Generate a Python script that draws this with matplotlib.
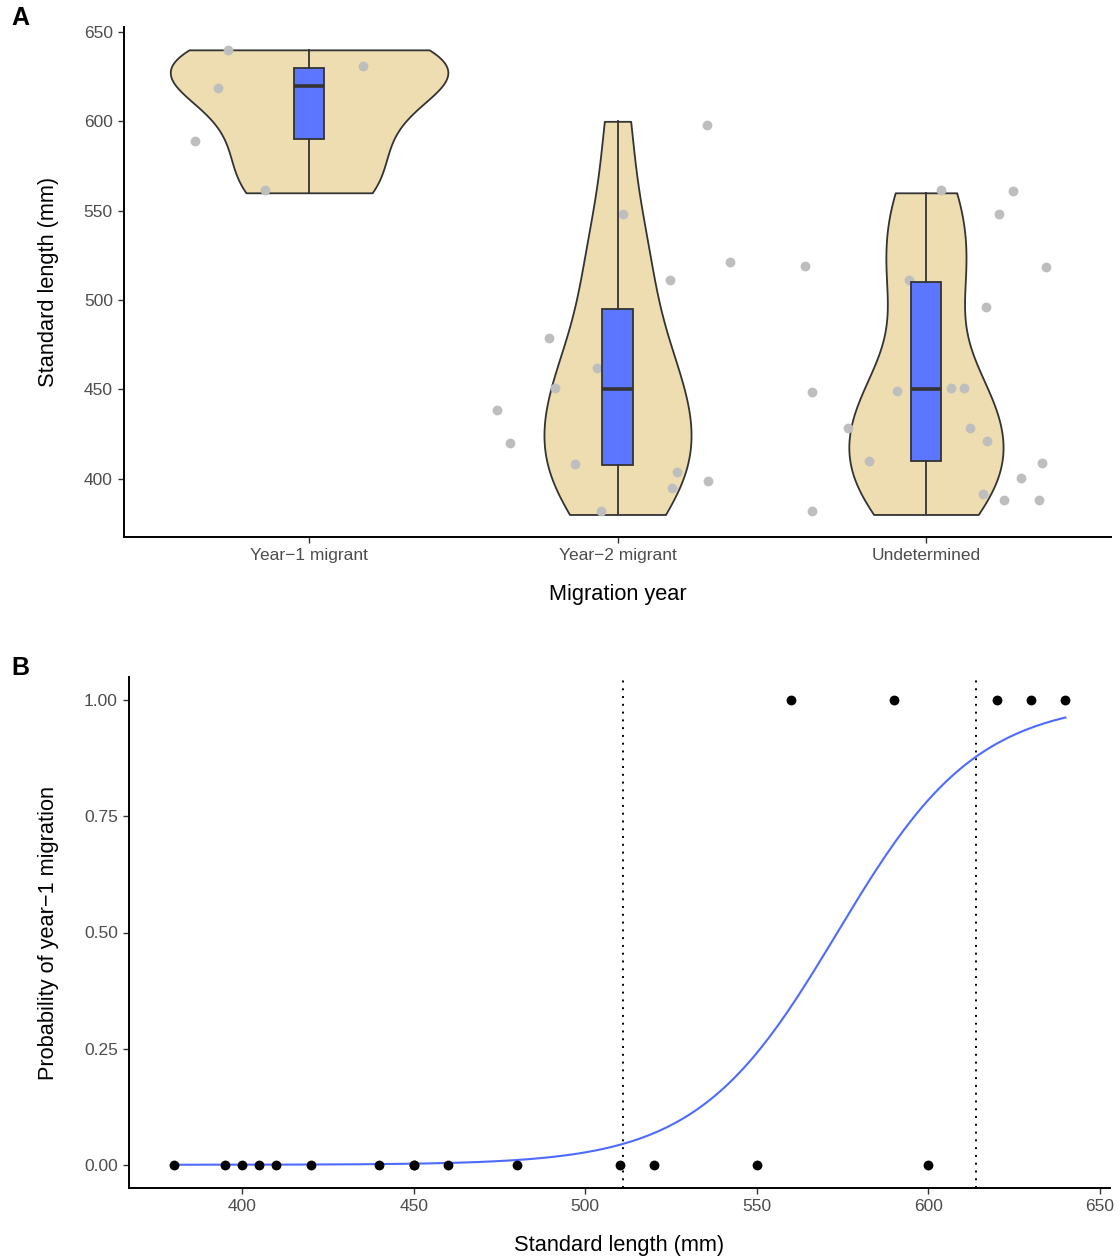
import numpy as np
import matplotlib
matplotlib.use('Agg')
import matplotlib.pyplot as plt

plt.rcParams['font.family'] = ['Liberation Sans', 'DejaVu Sans']

# Standard lengths (mm) by migration year
groups = ['Year\u22121 migrant', 'Year\u22122 migrant', 'Undetermined']
year1_len = np.array([560, 590, 620, 630, 640])
year2_len = np.array([380, 395, 400, 405, 410, 420, 440, 450, 450, 460, 480, 510, 520, 550, 600])
undet_len = np.array([380, 390, 390, 390, 400, 410, 410, 420, 430, 430, 450, 450, 450, 450,
                      495, 510, 520, 520, 550, 560, 560])

# jittered points as plotted (value, horizontal offset)
year1_jit_y = [588.9, 618.8, 639.9, 631.0, 561.6]
year1_jit_dx = [-0.371, -0.294, -0.262, 0.174, -0.142]
year2_jit_y = [598, 548, 521, 511, 479, 461.7, 450.7, 438.4, 419.8, 408, 403.5, 398.9, 395, 381.7, 449]
year2_jit_dx = [0.290, 0.017, 0.364, 0.170, -0.221, -0.066, -0.202, -0.392, -0.349, -0.138,
                0.192, 0.293, 0.178, -0.053, 0.02]
undet_jit_y = [561.6, 561, 548, 519, 518.6, 511, 496, 448.7, 449, 451, 451, 428.5, 428.5, 421,
               410, 409, 400.6, 391.6, 388, 388, 382]
undet_jit_dx = [0.049, 0.282, 0.237, -0.392, 0.389, -0.055, 0.194, -0.370, -0.094, 0.081, 0.123,
                -0.253, 0.143, 0.198, -0.185, 0.376, 0.308, 0.185, 0.253, 0.366, -0.370]

# cut-off lengths marked in panel B
cutoffs = [511, 614]

lengths = [year1_len, year2_len, undet_len]
jit_y = [year1_jit_y, year2_jit_y, undet_jit_y]
jit_dx = [year1_jit_dx, year2_jit_dx, undet_jit_dx]

W, H = 1120, 1259
fig = plt.figure(figsize=(W / 100, H / 100), dpi=100)

tick_col = '#4D4D4D'
line_col = '#333333'


def bw_nrd0(x):
    sd = np.std(x, ddof=1)
    q1, q3 = np.percentile(x, [25, 75])
    lo = min(sd, (q3 - q1) / 1.34)
    return 0.9 * lo * len(x) ** -0.2


def kde(x, grid):
    bw = bw_nrd0(x)
    z = (grid[:, None] - x[None, :]) / bw
    return np.exp(-0.5 * z ** 2).sum(axis=1) / (len(x) * bw * np.sqrt(2 * np.pi))


def style_axis(ax):
    for s in ['top', 'right']:
        ax.spines[s].set_visible(False)
    for s in ['left', 'bottom']:
        ax.spines[s].set_linewidth(1.4)
        ax.spines[s].set_color('black')
    ax.tick_params(length=4, width=1.0, color=line_col, labelcolor=tick_col,
                   labelsize=12.5, pad=4)


# ---- Panel A: violins + boxplots ----
axA = fig.add_axes([124 / W, 1 - 537 / H, (1111 - 124) / W, (537 - 26.6) / H])
grids = [np.linspace(v.min(), v.max(), 512) for v in lengths]
dens = [kde(v.astype(float), g) for v, g in zip(lengths, grids)]
dmax = max(d.max() for d in dens)

for i, (g, d) in enumerate(zip(grids, dens)):
    pos = i + 1
    half = 0.45 * d / dmax
    axA.fill_betweenx(g, pos - half, pos + half, facecolor='#EDDDB0',
                      edgecolor=line_col, linewidth=1.3, zorder=1)
    axA.scatter(pos + np.array(jit_dx[i]), jit_y[i], s=50, color='#BEBEBE',
                linewidths=0, zorder=2)

axA.boxplot(lengths, positions=[1, 2, 3], widths=0.1, patch_artist=True,
            showcaps=False, showfliers=False, whis=1.5,
            boxprops=dict(facecolor='#5C76FF', edgecolor=line_col, linewidth=1.3),
            whiskerprops=dict(color=line_col, linewidth=1.3),
            medianprops=dict(color=line_col, linewidth=2.6),
            zorder=3)

axA.set_xlim(0.4, 3.6)
axA.set_ylim(367.4, 653)
axA.set_xticks([1, 2, 3])
axA.set_xticklabels(groups)
axA.set_yticks([400, 450, 500, 550, 600, 650])
style_axis(axA)
axA.set_xlabel('Migration year', fontsize=15.7, labelpad=15)
axA.set_ylabel('Standard length (mm)', fontsize=15.7, labelpad=18)
fig.text(20 / W, 1 - 18 / H, 'A', fontsize=18, fontweight='bold', ha='center', va='center')

# ---- Panel B: logistic regression ----
xb = np.concatenate([year1_len, year2_len]).astype(float)
yb = np.concatenate([np.ones(len(year1_len)), np.zeros(len(year2_len))])

xm = xb.mean()
X = np.column_stack([np.ones_like(xb), xb - xm])
beta = np.zeros(2)
for _ in range(100):
    p = 1 / (1 + np.exp(-X @ beta))
    w = p * (1 - p)
    step = np.linalg.solve(X.T @ (X * w[:, None]), X.T @ (yb - p))
    beta += step
    if np.abs(step).max() < 1e-10:
        break

xs = np.linspace(xb.min(), xb.max(), 200)
ps = 1 / (1 + np.exp(-(beta[0] + beta[1] * (xs - xm))))

axB = fig.add_axes([129 / W, 1 - 1188 / H, (1110 - 129) / W, (1188 - 677) / H])
for c in cutoffs:
    axB.axvline(c, color='black', linestyle=(0, (1, 3)), linewidth=1.4, zorder=1)
axB.plot(xs, ps, color='#4D6BFF', linewidth=1.5, zorder=2)
axB.scatter(xb, yb, s=50, color='black', linewidths=0, zorder=3)

axB.set_xlim(367, 653)
axB.set_ylim(-0.05, 1.05)
axB.set_xticks([400, 450, 500, 550, 600, 650])
axB.set_yticks([0, 0.25, 0.5, 0.75, 1.0])
axB.set_yticklabels(['0.00', '0.25', '0.50', '0.75', '1.00'])
style_axis(axB)
axB.set_xlabel('Standard length (mm)', fontsize=15.7, labelpad=15)
axB.set_ylabel('Probability of year\u22121 migration', fontsize=15.7, labelpad=18)
fig.text(20 / W, 1 - 668 / H, 'B', fontsize=18, fontweight='bold', ha='center', va='center')

fig.savefig('out.png', dpi=100)
